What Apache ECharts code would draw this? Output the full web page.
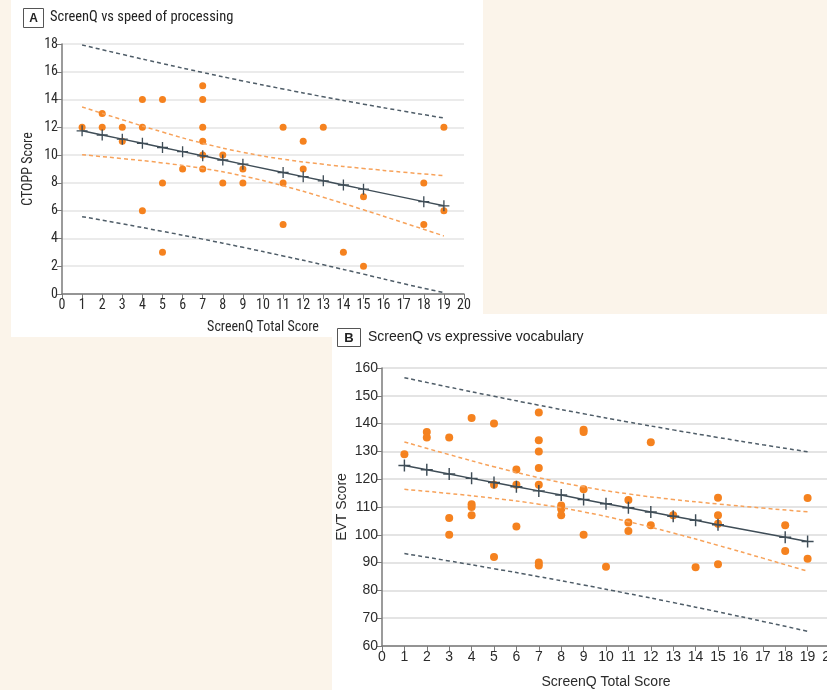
<!DOCTYPE html>
<html>
<head>
<meta charset="utf-8">
<script src="https://cdn.jsdelivr.net/npm/echarts@6/dist/echarts.min.js"></script>
<style>
html,body{margin:0;padding:0;background:#fbf4ea;overflow:hidden;}
#chart{width:827px;height:690px;}
</style>
</head>
<body>
<div id="chart"></div>
<script>
// ---- Panel A: ScreenQ vs speed of processing ----
const A_TITLE = 'ScreenQ vs speed of processing';
const A_X_NAME = 'ScreenQ Total Score';
const A_Y_NAME = 'CTOPP Score';
const A_POINT_X = [1,2,2,3,3,4,4,4,5,5,5,6,7,7,7,7,7,7,8,8,9,9,11,11,11,12,12,13,14,15,15,18,18,19,19];
const A_POINT_Y = [12,13,12,12,11,14,12,6,14,8,3,9,15,14,12,11,10,9,10,8,9,8,12,8,5,11,9,12,3,7,2,8,5,12,6];
const A_FIT_X = [1,2,3,4,5,6,7,8,9,11,12,13,14,15,18,19];
const A_FIT_Y = [11.75,11.45,11.15,10.85,10.55,10.25,9.95,9.65,9.35,8.75,8.45,8.15,7.85,7.55,6.65,6.35];
const BAND_X = [1,3,5,7,9,11,13,15,17,19];
const A_CI_UP = [13.47,12.55,11.66,10.86,10.20,9.71,9.34,9.04,8.77,8.52];
const A_CI_LO = [10.03,9.75,9.44,9.04,8.50,7.79,6.96,6.06,5.13,4.18];
const A_PI_UP = [17.93,17.25,16.59,15.95,15.34,14.76,14.20,13.67,13.16,12.67];
const A_PI_LO = [5.57,5.05,4.51,3.95,3.36,2.74,2.10,1.43,0.74,0.10];

// ---- Panel B: ScreenQ vs expressive vocabulary ----
const B_TITLE = 'ScreenQ vs expressive vocabulary';
const B_X_NAME = 'ScreenQ Total Score';
const B_Y_NAME = 'EVT Score';
const B_POINT_X = [1,2,2,3,3,3,4,4,4,4,5,5,5,6,6,6,7,7,7,7,7,7,7,8,8,8,9,9,9,9,10,11,11,11,12,12,13,14,15,15,15,15,18,18,19,19];
const B_POINT_Y = [129,137,135,135,106,100,142,111,110,107,140,118,92,123.5,118,103,144,134,130,124,118,90,89,110.5,109.3,107,137.8,137,116.4,100,88.5,112.5,104.4,101.4,133.3,103.4,107,88.3,113.3,107,104,89.4,103.4,94.2,113.2,91.4];
const B_FIT_X = [1,2,3,4,5,6,7,8,9,10,11,12,13,14,15,18,19];
const B_FIT_Y = [124.9,123.4,121.9,120.3,118.8,117.3,115.8,114.3,112.7,111.2,109.7,108.2,106.7,105.2,103.6,99.1,97.6];
const B_CI_UP = [133.40,128.84,124.50,120.55,117.25,114.70,112.72,111.09,109.62,108.26];
const B_CI_LO = [116.36,114.86,113.14,111.01,108.25,104.72,100.64,96.21,91.60,86.90];
const B_PI_UP = [156.52,153.11,149.82,146.62,143.55,140.59,137.74,135.01,132.38,129.87];
const B_PI_LO = [93.24,90.59,87.82,84.94,81.95,78.83,75.62,72.29,68.84,65.29];

const zip = (xs, ys) => xs.map((x, i) => [x, ys[i]]);

const ORANGE = '#f5821f';
const ORANGE_LINE = '#f7a25a';
const DARK = '#3f4d57';
const GRAY_DASH = '#4f5d68';
const PLUS = 'path://M4.4,0h1.2v10h-1.2z M0,4.4h10v1.2h-10z';
const FONT_A = '"Liberation Sans Narrow", "Roboto Condensed", "Liberation Sans", sans-serif';
const FONT_B = '"Liberation Sans", Arial, sans-serif';

function axisCommon(font, size) {
  return {
    axisLine: {show: true, lineStyle: {color: '#7a7a7a', width: 1.5}},
    axisTick: {show: true, inside: false, length: 5, lineStyle: {color: '#7a7a7a', width: 1}},
    axisLabel: {color: '#2b2b2b', fontSize: size, fontFamily: font, margin: 4},
    nameTextStyle: {color: '#2b2b2b', fontSize: size, fontFamily: font},
    splitLine: {show: false}
  };
}

function panelSeries(idx, px, py, fx, fy, ciU, ciL, piU, piL, dotSize, plusSize) {
  const dashed = (data, color) => ({
    type: 'line', xAxisIndex: idx, yAxisIndex: idx, data: data, smooth: true,
    showSymbol: false, silent: true, z: 3,
    lineStyle: {color: color, width: 1.5, type: [4, 3]}
  });
  return [
    {type: 'scatter', xAxisIndex: idx, yAxisIndex: idx, data: zip(px, py),
     symbolSize: dotSize, itemStyle: {color: ORANGE, opacity: 1}, z: 2},
    dashed(zip(BAND_X, ciU), ORANGE_LINE),
    dashed(zip(BAND_X, ciL), ORANGE_LINE),
    dashed(zip(BAND_X, piU), GRAY_DASH),
    dashed(zip(BAND_X, piL), GRAY_DASH),
    {type: 'line', xAxisIndex: idx, yAxisIndex: idx, data: zip(fx, fy),
     symbol: PLUS, symbolSize: plusSize, showSymbol: true, z: 5,
     itemStyle: {color: DARK}, lineStyle: {color: DARK, width: 1.5}}
  ];
}

const chart = echarts.init(document.getElementById('chart'), null, {renderer: 'canvas'});
const cA = axisCommon(FONT_A, 14);
const cB = axisCommon(FONT_B, 14);

const option = {
  backgroundColor: '#fbf4ea',
  animation: false,
  graphic: [
    {type: 'rect', z: -10, silent: true, shape: {x: 11, y: 0, width: 472, height: 337}, style: {fill: '#ffffff'}},
    {type: 'rect', z: -10, silent: true, shape: {x: 332, y: 314, width: 495, height: 376}, style: {fill: '#ffffff'}},
    {type: 'rect', z: 10, shape: {x: 23.5, y: 8.5, width: 20, height: 19}, style: {fill: '#fff', stroke: '#555', lineWidth: 1}},
    {type: 'text', z: 11, x: 33.5, y: 18.5, style: {text: 'A', fontSize: 12, fontWeight: 'bold', fontFamily: FONT_B, fill: '#222', align: 'center', verticalAlign: 'middle'}},
    {type: 'text', z: 11, x: 50, y: 17.5, style: {text: A_TITLE, fontSize: 14.5, fontFamily: FONT_A, fill: '#222', align: 'left', verticalAlign: 'middle'}},
    {type: 'rect', z: 10, shape: {x: 337.5, y: 328.5, width: 23, height: 18}, style: {fill: '#fff', stroke: '#555', lineWidth: 1}},
    {type: 'text', z: 11, x: 349, y: 338, style: {text: 'B', fontSize: 13, fontWeight: 'bold', fontFamily: FONT_B, fill: '#222', align: 'center', verticalAlign: 'middle'}},
    {type: 'text', z: 11, x: 368, y: 337.5, style: {text: B_TITLE, fontSize: 14, fontFamily: FONT_B, fill: '#222', align: 'left', verticalAlign: 'middle'}}
  ],
  grid: [
    {left: 62, top: 44, right: 363, bottom: 396, containLabel: false, outerBoundsMode: 'none'},
    {left: 382, top: 368, width: 448, bottom: 44, containLabel: false, outerBoundsMode: 'none'}
  ],
  xAxis: [
    Object.assign({}, cA, {type: 'value', gridIndex: 0, min: 0, max: 20, interval: 1,
      name: A_X_NAME, nameLocation: 'middle', nameGap: 26}),
    Object.assign({}, cB, {type: 'value', gridIndex: 1, min: 0, max: 20, interval: 1,
      name: B_X_NAME, nameLocation: 'middle', nameGap: 29})
  ],
  yAxis: [
    Object.assign({}, cA, {type: 'value', gridIndex: 0, min: 0, max: 18, interval: 2,
      name: A_Y_NAME, nameLocation: 'middle', nameGap: 27,
      splitLine: {show: true, lineStyle: {color: '#e4e4e4', width: 1.5}}}),
    Object.assign({}, cB, {type: 'value', gridIndex: 1, min: 60, max: 160, interval: 10,
      name: B_Y_NAME, nameLocation: 'middle', nameGap: 33, nameMoveOverlap: false,
      splitLine: {show: true, lineStyle: {color: '#e4e4e4', width: 2}}})
  ],
  series: [].concat(
    panelSeries(0, A_POINT_X, A_POINT_Y, A_FIT_X, A_FIT_Y, A_CI_UP, A_CI_LO, A_PI_UP, A_PI_LO, 7, 11),
    panelSeries(1, B_POINT_X, B_POINT_Y, B_FIT_X, B_FIT_Y, B_CI_UP, B_CI_LO, B_PI_UP, B_PI_LO, 8, 12)
  )
};
chart.setOption(option);
</script>
</body>
</html>
